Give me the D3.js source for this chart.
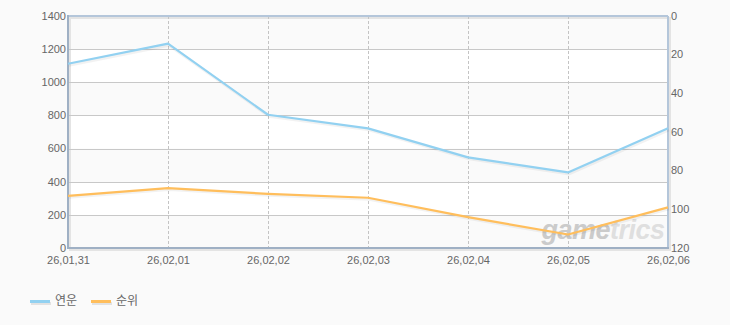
<!DOCTYPE html>
<html><head><meta charset="utf-8">
<script src="https://cdn.jsdelivr.net/npm/d3@7"></script>
<style>
html,body{margin:0;padding:0;background:#fafafa;}
svg{display:block;}
text{font-family:"Liberation Sans","Noto Sans CJK KR",sans-serif;}
</style></head>
<body><svg id="c" width="730" height="325"></svg>
<script>
const categories = ["26,01,31","26,02,01","26,02,02","26,02,03","26,02,04","26,02,05","26,02,06"];
const yeonun = [1112, 1233, 804, 722, 547, 456, 722];   // 연운 (left axis)
const rank = [93, 89, 92, 94, 104, 113, 99];             // 순위 (right axis, inverted)
const leftTicks = [0,200,400,600,800,1000,1200,1400];
const rightTicks = [0,20,40,60,80,100,120];
const seriesNames = ["연운","순위"];
const colors = ["#92d1f1","#ffbe5c"];

const svg = d3.select("#c");
const L=68, R=668, T=16, B=248;
const x = d3.scalePoint().domain(categories).range([L,R]);
const yL = d3.scaleLinear().domain([0,1400]).range([B,T]);
const yR = d3.scaleLinear().domain([0,120]).range([T,B]);

// bands
const bands = d3.range(leftTicks.length-1);
svg.append("g").selectAll("rect").data(bands).join("rect")
  .attr("x",L).attr("width",R-L)
  .attr("y",i=>yL(leftTicks[i+1])).attr("height",i=>yL(leftTicks[i])-yL(leftTicks[i+1]))
  .attr("fill",i=>i%2===0?"#fafafa":"#ffffff");

// shadow of frame
svg.append("rect").attr("x",L+2).attr("y",T+2).attr("width",R-L).attr("height",B-T)
  .attr("fill","none").attr("stroke","#e4e4e4").attr("stroke-width",2);

// horizontal grid
svg.append("g").selectAll("line").data(leftTicks.slice(1,-1)).join("line")
  .attr("x1",L).attr("x2",R).attr("y1",d=>Math.round(yL(d))+0.5).attr("y2",d=>Math.round(yL(d))+0.5)
  .attr("stroke","#c8c8c8").attr("stroke-width",1);
// vertical dashed grid
svg.append("g").selectAll("line").data(categories.slice(1,-1)).join("line")
  .attr("x1",d=>Math.round(x(d))+0.5).attr("x2",d=>Math.round(x(d))+0.5).attr("y1",T).attr("y2",B)
  .attr("stroke","#c4c4c4").attr("stroke-width",1).attr("stroke-dasharray","3,2");

// watermark
const wm = svg.append("text").attr("x",603).attr("y",239).attr("text-anchor","middle")
  .attr("font-size",27).attr("font-style","italic").attr("font-weight","bold")
  .attr("letter-spacing",-0.5).style("font-family","'Liberation Sans',Arial,sans-serif");
wm.append("tspan").attr("fill","#cbcbcb").text("game");
wm.append("tspan").attr("fill","#dfdfdf").text("trics");

// frame
svg.append("line").attr("x1",L).attr("x2",R).attr("y1",T).attr("y2",T).attr("stroke","#b4c6da").attr("stroke-width",2);
svg.append("line").attr("x1",R).attr("x2",R).attr("y1",T).attr("y2",B).attr("stroke","#b4c6da").attr("stroke-width",2);
svg.append("line").attr("x1",L).attr("x2",L).attr("y1",T-1).attr("y2",B+1).attr("stroke","#9fb0c4").attr("stroke-width",2);
svg.append("line").attr("x1",L-1).attr("x2",R+1).attr("y1",B).attr("y2",B).attr("stroke","#9fb0c4").attr("stroke-width",2);

// lines
const lineL = d3.line().x((d,i)=>x(categories[i])).y(d=>yL(d));
const lineR = d3.line().x((d,i)=>x(categories[i])).y(d=>yR(d));
[[yeonun,lineL,colors[0]],[rank,lineR,colors[1]]].forEach(([data,gen,col])=>{
  svg.append("path").datum(data).attr("d",gen).attr("fill","none")
    .attr("stroke","#000").attr("stroke-opacity",0.05).attr("stroke-width",3).attr("transform","translate(1,1.5)");
  svg.append("path").datum(data).attr("d",gen).attr("fill","none")
    .attr("stroke",col).attr("stroke-width",2.2).attr("stroke-linejoin","round");
});

// axes
const axL = svg.append("g").attr("transform",`translate(${L},0)`)
  .call(d3.axisLeft(yL).tickValues(leftTicks).tickSize(0).tickPadding(2).tickFormat(d3.format("d")));
const axR = svg.append("g").attr("transform",`translate(${R},0)`)
  .call(d3.axisRight(yR).tickValues(rightTicks).tickSize(0).tickPadding(3).tickFormat(d3.format("d")));
const axB = svg.append("g").attr("transform",`translate(0,${B})`)
  .call(d3.axisBottom(x).tickSize(0).tickPadding(8));
[axL,axR,axB].forEach(a=>{
  a.select(".domain").remove();
  a.selectAll("text").attr("fill","#666").attr("font-size",11).style("font-family","'Liberation Sans',sans-serif");
});
axL.selectAll("text").attr("dy","0.3em");
axR.selectAll("text").attr("dy","0.3em");

// legend
const leg = svg.append("g");
const lx = [30,91];
seriesNames.forEach((n,i)=>{
  leg.append("rect").attr("x",lx[i]+1).attr("y",302).attr("width",20).attr("height",3).attr("fill","#e2e2e2");
  leg.append("rect").attr("x",lx[i]).attr("y",300).attr("width",20).attr("height",3).attr("fill",colors[i]);
  leg.append("text").attr("x",lx[i]+25).attr("y",305).attr("font-size",12).attr("fill","#666")
    .style("font-family","'Noto Sans CJK KR',sans-serif").text(n);
});
</script></body></html>
